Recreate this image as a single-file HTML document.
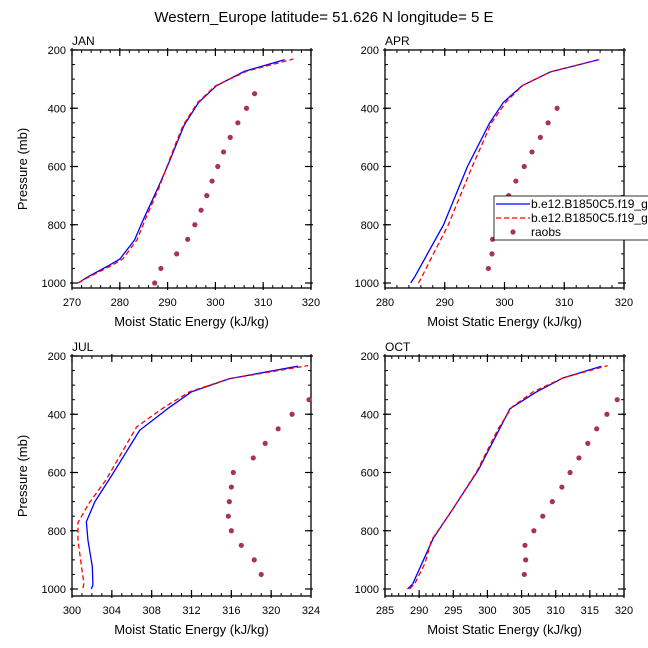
<!DOCTYPE html>
<html><head><meta charset="utf-8"><style>
html,body{margin:0;padding:0;background:#fff;}
svg{display:block;font-family:"Liberation Sans",sans-serif;}
</style></head><body>
<svg id="chart" width="648" height="648" viewBox="0 0 648 648">
<text x="324" y="22" text-anchor="middle" font-size="15">Western_Europe  latitude= 51.626 N longitude= 5 E</text>
</svg>
<script>
// JAN
const janModelP = [1000,982,938,918,852,783,669,594,525,457,380,323,273,233];
const janBlue = [271.3,273.0,277.9,280.0,283.1,284.9,288.1,290.1,291.8,293.5,296.5,300.2,306.1,314.5];
const janRedP = [1000,982,938,918,852,783,669,594,525,457,380,323,273,231];
const janRed = [271.3,273.2,278.5,280.6,283.6,285.3,288.3,290.0,291.6,293.3,296.3,300.0,306.5,316.3];
const janObsP = [1000,950,900,850,800,750,700,650,600,550,500,450,400,350];
const janObs = [287.3,288.6,291.9,294.2,295.7,297.0,298.2,299.3,300.5,301.7,303.1,304.7,306.5,308.2];
// APR
const aprModelP = [1000,978,800,600,451,380,322,275,233];
const aprBlue = [284.3,285.0,289.8,293.8,297.5,299.8,303.0,307.7,315.8];
const aprRedP = [1000,978,920,800,600,451,380,322,275,233];
const aprRed = [285.6,286.2,287.6,290.6,294.6,297.8,300.2,303.0,307.7,315.8];
const aprObsP = [950,900,850,800,750,700,650,600,550,500,450,400];
const aprObs = [297.3,297.9,298.0,298.6,299.5,300.7,301.9,303.3,304.6,306.0,307.3,308.8];
// JUL
const julModelP = [1000,986,923,832,769,700,615,455,381,323,278,235];
const julBlue = [301.94,302.1,302.04,301.6,301.44,302.3,303.9,306.8,309.6,312.0,315.8,322.7];
const julRedP = [997,980,935,832,772,706,626,443,375,323,278,233];
const julRed = [301.1,301.2,301.0,300.6,300.6,301.7,303.4,306.5,309.3,311.8,315.8,323.7];
const julObsP = [950,900,850,800,750,700,650,600,550,500,450,400,350];
const julObs = [319.0,318.3,317.0,316.0,315.7,315.8,316.0,316.2,318.2,319.4,320.7,322.1,323.8];
// OCT
const octModelP = [1000,983,889,826,723,592,449,381,323,275,235];
const octBlue = [288.3,289.05,290.85,292.07,295.0,298.65,301.8,303.3,307.2,311.1,316.7];
const octRedP = [1000,980,912,832,741,598,449,375,323,275,233];
const octRed = [288.6,289.4,290.85,291.8,294.5,298.4,301.6,303.6,306.7,311.1,317.6];
const octObsP = [950,900,850,800,750,700,650,600,550,500,450,400,350];
const octObs = [305.4,305.6,305.5,306.8,308.1,309.5,310.9,312.1,313.4,314.7,316.0,317.5,319.0];
// axis ticks
const yTicks = [200,400,600,800,1000];
const janXTicks = [270,280,290,300,310,320];
const aprXTicks = [280,290,300,310,320];
const julXTicks = [300,304,308,312,316,320,324];
const octXTicks = [285,290,295,300,305,310,315,320];
const legendLabels = ["b.e12.B1850C5.f19_g16","b.e12.B1850C5.f19_g16","raobs"];

const NS="http://www.w3.org/2000/svg";
const svg=document.getElementById('chart');
function mk(tag,attrs,parent){const e=document.createElementNS(NS,tag);for(const k in attrs)e.setAttribute(k,attrs[k]);(parent||svg).appendChild(e);return e;}

function panel(cfg){
  const g=mk('g',{});
  
  
  const L=cfg.left,R=cfg.left+239,T=cfg.top,B=cfg.bottom,y1000=cfg.top+233;
  const xs=v=>L+(v-cfg.xmin)/(cfg.xmax-cfg.xmin)*(R-L);
  const ys=p=>T+(p-200)/800*(y1000-T);
  for(let v=cfg.xmin;v<=cfg.xmax+1e-6;v+=cfg.xminor){
    const x=xs(v);
    mk('line',{x1:x,y1:B,x2:x,y2:B-3,stroke:'#000','stroke-width':1},g);
    mk('line',{x1:x,y1:T,x2:x,y2:T+3,stroke:'#000','stroke-width':1},g);
  }
  for(let p=200;p<=1000;p+=50){
    const y=ys(p);
    mk('line',{x1:L,y1:y,x2:L+3,y2:y,stroke:'#000','stroke-width':1},g);
    mk('line',{x1:R,y1:y,x2:R-3,y2:y,stroke:'#000','stroke-width':1},g);
  }
  cfg.xticks.forEach(v=>{
    const x=xs(v);
    mk('line',{x1:x,y1:B+2,x2:x,y2:B-6,stroke:'#000','stroke-width':1.2},g);
    mk('line',{x1:x,y1:T-2,x2:x,y2:T+6,stroke:'#000','stroke-width':1.2},g);
    const t=mk('text',{x:x,y:B+18,'text-anchor':'middle','font-size':11},g);
    t.textContent=v;
    
    
  });
  yTicks.forEach(p=>{
    const y=ys(p);
    mk('line',{x1:L-2,y1:y,x2:L+6,y2:y,stroke:'#000','stroke-width':1.2},g);
    mk('line',{x1:R+2,y1:y,x2:R-6,y2:y,stroke:'#000','stroke-width':1.2},g);
    const t=mk('text',{x:L-6,y:y+4,'text-anchor':'end','font-size':11},g);
    t.textContent=p;
    
    
  });
  const box=mk('rect',{x:L,y:T,width:R-L,height:B-T,fill:'none',stroke:'#000','stroke-width':1.3},g);
  
  
  const lab=mk('text',{x:L,y:T-5,'font-size':12},g);
  lab.textContent=cfg.label;
  
  
  const xt=mk('text',{x:(L+R)/2,y:B+38,'text-anchor':'middle','font-size':13},g);
  xt.textContent='Moist Static Energy (kJ/kg)';
  
  
  if(cfg.ytitle){
    const yt=mk('text',{x:0,y:0,'text-anchor':'middle','font-size':13,transform:`translate(27,${(T+B)/2}) rotate(-90)`},g);
    yt.textContent='Pressure (mb)';
    
    
  }
  const pb=mk('polyline',{points:cfg.blueP.map((p,i)=>xs(cfg.blue[i])+','+ys(p)).join(' '),fill:'none',stroke:'#0000ff','stroke-width':1.3,'stroke-linejoin':'round'},g);
  
  
  const pr=mk('polyline',{points:cfg.redP.map((p,i)=>xs(cfg.red[i])+','+ys(p)).join(' '),fill:'none',stroke:'#ff0000','stroke-width':1.3,'stroke-dasharray':'5,3','stroke-linejoin':'round'},g);
  
  
  cfg.obsP.forEach((p,i)=>{
    const c=mk('circle',{cx:xs(cfg.obs[i]),cy:ys(p),r:2.6,fill:'#a8325e'},g);
    
    
  });
}
panel({name:'jan',label:'JAN',left:72,top:50,bottom:288,xmin:270,xmax:320,xminor:2,xticks:janXTicks,ytitle:true,blueP:janModelP,blue:janBlue,redP:janRedP,red:janRed,obsP:janObsP,obs:janObs});
panel({name:'apr',label:'APR',left:385,top:50,bottom:288,xmin:280,xmax:320,xminor:2,xticks:aprXTicks,ytitle:false,blueP:aprModelP,blue:aprBlue,redP:aprRedP,red:aprRed,obsP:aprObsP,obs:aprObs});
panel({name:'jul',label:'JUL',left:72,top:356,bottom:596,xmin:300,xmax:324,xminor:1,xticks:julXTicks,ytitle:true,blueP:julModelP,blue:julBlue,redP:julRedP,red:julRed,obsP:julObsP,obs:julObs});
panel({name:'oct',label:'OCT',left:385,top:356,bottom:596,xmin:285,xmax:320,xminor:1,xticks:octXTicks,ytitle:false,blueP:octModelP,blue:octBlue,redP:octRedP,red:octRed,obsP:octObsP,obs:octObs});

const lg=mk('g',{});


mk('rect',{x:494,y:196,width:160,height:44,fill:'#fff',stroke:'#000','stroke-width':0.8},lg);
const lys=[204,218,232];
mk('line',{x1:496,y1:lys[0],x2:530,y2:lys[0],stroke:'#0000ff','stroke-width':1.3},lg);
mk('line',{x1:496,y1:lys[1],x2:530,y2:lys[1],stroke:'#ff0000','stroke-width':1.3,'stroke-dasharray':'5,3'},lg);
mk('circle',{cx:513,cy:lys[2],r:2.6,fill:'#a8325e'},lg);
legendLabels.forEach((s,i)=>{
  const t=mk('text',{x:531,y:lys[i]+4,'font-size':12},lg);
  t.textContent=s;
  
  
});
</script>
</body></html>
